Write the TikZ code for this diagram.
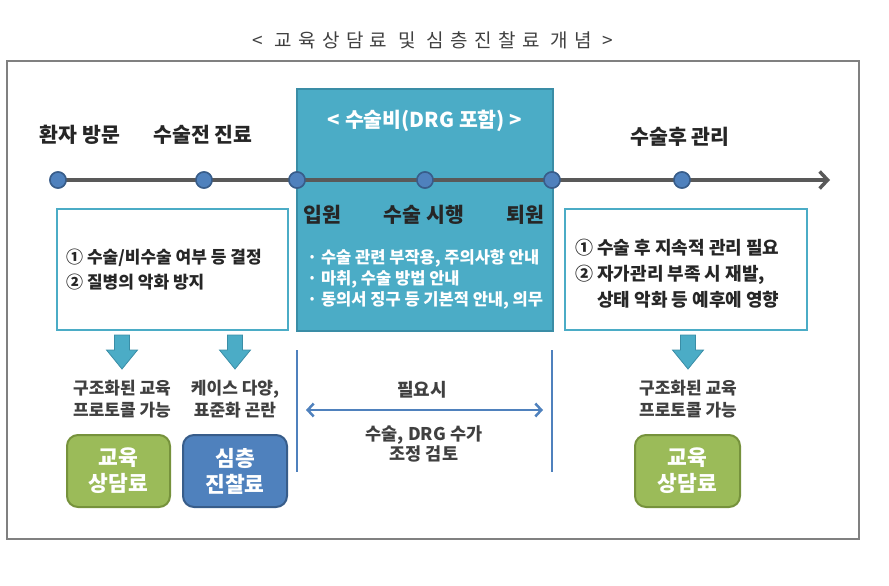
\documentclass[tikz,border=0pt]{standalone}
\usepackage{fontspec}
\setmainfont{Noto Sans CJK KR}
\newfontfamily\titlefont{Noto Sans CJK KR}[LetterSpace=34]
\usetikzlibrary{arrows.meta}
\newcommand\myfs[2]{\fontsize{#1}{#2}\selectfont}
\definecolor{teal1}{HTML}{4BACC6}
\definecolor{teal2}{HTML}{3A8DA6}
\definecolor{dotblue}{HTML}{4F81BD}
\definecolor{dotedge}{HTML}{385D8A}
\definecolor{gline}{HTML}{595959}
\definecolor{grn}{HTML}{9BBB59}
\definecolor{grnedge}{HTML}{76923C}
\definecolor{txt}{HTML}{262626}
\definecolor{txt2}{HTML}{404040}
\definecolor{vline}{HTML}{4F81BD}
\tikzset{
  tdot/.style={circle, fill=dotblue, draw=dotedge, line width=1.5pt, minimum size=16pt, inner sep=0pt},
  lab/.style={font=\myfs{20.5}{24}\bfseries, text=txt, inner sep=0pt},
  blockarr/.style={fill=teal1, draw=teal2, line width=0.8pt},
  wbox/.style={draw=teal1, line width=2pt, fill=white},
  subtxt/.style={font=\myfs{17}{22}\bfseries, text=txt2, align=center, inner sep=0pt},
  feebox/.style={rounded corners=11pt, line width=2pt, minimum height=72pt, text=white,
     font=\myfs{21.5}{26}\bfseries, align=center, inner sep=0pt},
  vl/.style={draw=vline, line width=2.5pt},
}
\begin{document}
\begin{tikzpicture}[x=1pt,y=-1pt]
\useasboundingbox (0,0) rectangle (889,586);
% title
\node[font=\titlefont\myfs{19}{22}, text=txt2, inner sep=0pt] (title) at (433,40) {< 교육상담료 및 심층진찰료 개념 >};
% outer frame
\node[draw=gray, line width=1.5pt, minimum width=852pt, minimum height=478pt, inner sep=0pt] (frame) at (433,300) {};
% teal box
\node[fill=teal1, draw=teal2, line width=1.2pt, minimum width=256pt, minimum height=242pt, inner sep=0pt] (teal) at (425,210) {};
% timeline
\coordinate (tend) at (830,180);
\node[tdot] (d1) at (58,180) {};
\node[tdot] (d2) at (204,180) {};
\node[tdot] (d3) at (297,180) {};
\node[tdot] (d4) at (425,180) {};
\node[tdot] (d5) at (552,180) {};
\node[tdot] (d6) at (682,180) {};
\draw[gline, line width=3.5pt, -{Straight Barb[length=8pt,width=17pt]}] (d1.center) -- (tend);
\foreach \n in {d1,d2,d3,d4,d5,d6} \node[tdot] at (\n) {};
% labels above
\node[lab] (l1) at (80,135) {환자 방문};
\node[lab] (l2) at (203,135) {수술전 진료};
\node[lab, text=white] (l3) at (425,121) {< 수술비(DRG 포함) >};
\node[lab] (l4) at (680,137) {수술후 관리};
% labels inside teal
\node[lab] (i1) at (322,215) {입원};
\node[lab] (i2) at (424,215) {수술 시행};
\node[lab] (i3) at (525,215) {퇴원};
\node[anchor=west, text=white, font=\myfs{16.5}{21}\bfseries, align=left, inner sep=0pt] (bul) at (307,279)
  {· 수술 관련 부작용, 주의사항 안내\\· 마취, 수술 방법 안내\\· 동의서 징구 등 기본적 안내, 의무};
% left box
\node[wbox, minimum width=231pt, minimum height=121pt, inner sep=0pt] (lbox) at (172.5,269.5) {};
\node[anchor=west, font=\myfs{17}{25}\bfseries, text=txt, align=left, inner sep=0pt] (ltxt) at (66,270)
  {① 수술/비수술 여부 등 결정\\② 질병의 악화 방지};
% right box
\node[wbox, minimum width=242pt, minimum height=121pt, inner sep=0pt] (rbox) at (686,269.5) {};
\node[anchor=west, font=\myfs{18}{26}\bfseries, text=txt, align=left, inner sep=0pt] (rtxt) at (575,274)
  {① 수술 후 지속적 관리 필요\\② 자가관리 부족 시 재발,\\\phantom{②} 상태 악화 등 예후에 영향};
% down block arrows
\foreach \x in {122,235,688} {
  \draw[blockarr] (\x-7.5,335) -- (\x+7.5,335) -- (\x+7.5,350) -- (\x+15.5,350) -- (\x,369)
     -- (\x-15.5,350) -- (\x-7.5,350) -- cycle;
}
% texts below arrows
\node[subtxt] (s1) at (122,399) {구조화된 교육\\프로토콜 가능};
\node[subtxt] (s2) at (235,399) {케이스 다양,\\표준화 곤란};
\node[subtxt] (s3) at (688,399) {구조화된 교육\\프로토콜 가능};
% fee boxes
\node[feebox, fill=grn, draw=grnedge, minimum width=103pt] (f1) at (118.5,471) {교육\\상담료};
\node[feebox, fill=dotblue, draw=dotedge, minimum width=104pt] (f2) at (235,471) {심층\\진찰료};
\node[feebox, fill=grn, draw=grnedge, minimum width=105pt] (f3) at (687.5,471) {교육\\상담료};
% vertical lines and double arrow
\coordinate (v1a) at (297,350); \coordinate (v1b) at (297,472);
\coordinate (v2a) at (552,350); \coordinate (v2b) at (552,472);
\draw[vl] (v1a) -- (v1b);
\draw[vl] (v2a) -- (v2b);
\coordinate (ha) at (306,410); \coordinate (hb) at (543,410);
\draw[vline, line width=2.5pt, {Straight Barb[length=6pt,width=13pt]}-{Straight Barb[length=6pt,width=13pt]}] (ha) -- (hb);
\node[font=\myfs{18}{20}\bfseries, text=txt2, inner sep=0pt] (need) at (422,390) {필요시};
\node[font=\myfs{17.5}{20}\bfseries, text=txt2, align=center, inner sep=0pt] (adj) at (424,444) {수술, DRG 수가\\조정 검토};
\end{tikzpicture}
\end{document}
